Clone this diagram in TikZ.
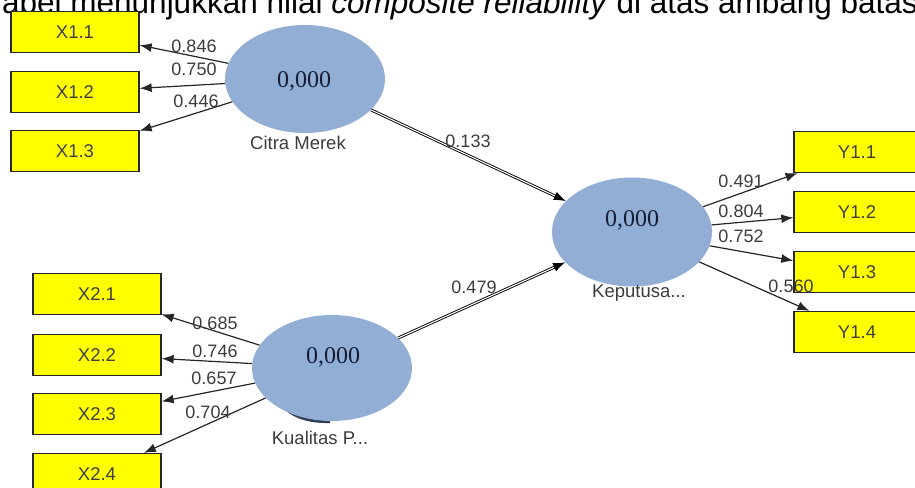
\documentclass[tikz,border=0pt]{standalone}
\usepackage{fontspec}
\setmainfont{Liberation Sans}
\newfontfamily\scorefont{Liberation Serif}
\usetikzlibrary{shapes.geometric,arrows.meta}
\definecolor{lvblue}{RGB}{147,174,213}
\definecolor{lvshadow}{RGB}{50,62,84}
\definecolor{mvyellow}{RGB}{255,255,0}
\definecolor{lbgray}{RGB}{60,60,60}
\definecolor{scorenavy}{RGB}{20,30,55}

\begin{document}
\begin{tikzpicture}[x = 1pt, y = -1pt,
    indicator/.style = {shape = rectangle, draw = black!85, line width = 1.3pt, fill = mvyellow, minimum width = 128pt, minimum height = 41pt, inner sep = 0pt, font = \fontsize{18.5}{21}\selectfont, text = black!75},
    latent/.style = {shape = ellipse, fill = lvblue, inner sep = 0pt, minimum width = 160pt, minimum height = 109pt},
    score/.style = {font = \scorefont\fontsize{24}{28}\selectfont, text = scorenavy},
    lvname/.style = {font = \fontsize{18.5}{21}\selectfont, text = lbgray, inner sep = 0pt},
    weight/.style = {font = \fontsize{18}{21}\selectfont, text = lbgray, inner sep = 0pt},
    loadarrow/.style = {draw = black!85, line width = 1.2pt, -{Latex[length = 12pt, width = 9pt]}},
    patharrow/.style = {draw = black, line width = 0.9pt, double = white, double distance = 1.1pt, -{Latex[length = 12pt, width = 9pt]}}]
    \useasboundingbox (0,0) rectangle (915,487);
    \clip (0,0) rectangle (915,487);

    \node[anchor = base west, inner sep = 0pt, font = \fontsize{31.5}{34}\selectfont] (TTL) at (2,14) {abel menunjukkan nilai \textit{composite reliability} di atas ambang batas};

    \node[indicator] (X11) at (75,32) {X1.1};
    \node[indicator] (X12) at (75,92) {X1.2};
    \node[indicator] (X13) at (75,151) {X1.3};
    \node[indicator] (X21) at (97,294) {X2.1};
    \node[indicator] (X22) at (97,355) {X2.2};
    \node[indicator] (X23) at (97,414) {X2.3};
    \node[indicator] (X24) at (97,474) {X2.4};
    \node[indicator, minimum width = 126pt] (Y11) at (857,152) {Y1.1};
    \node[indicator, minimum width = 126pt] (Y12) at (857,212) {Y1.2};
    \node[indicator, minimum width = 126pt] (Y13) at (857,272) {Y1.3};
    \node[indicator, minimum width = 126pt] (Y14) at (857,332) {Y1.4};

    \fill[lvshadow] (285,410) .. controls (295,419) and (310,423.5) .. (330,423) -- (330,400) -- (285,400) -- cycle;
    \node[latent, minimum height = 108pt] (CM) at (305,79) {};
    \node[latent, minimum height = 106pt] (KP) at (332,368) {};
    \node[latent] (KEP) at (632,232) {};

    \node[score] (CMV) at (304,81) {0,000};
    \node[score] (KPV) at (333,357) {0,000};
    \node[score] (KEPV) at (632,220) {0,000};
    \node[lvname] (CMN) at (298,143) {Citra Merek};
    \node[lvname] (KPN) at (320,438) {Kualitas P...};
    \node[lvname] (KEPN) at (639,293) {Keputusa...};

    \draw[loadarrow] (CM) -- (X11);
    \draw[loadarrow] (CM) -- (X12);
    \draw[loadarrow] (CM) -- (X13);
    \draw[loadarrow] (KP) -- (X21);
    \draw[loadarrow] (KP) -- (X22);
    \draw[loadarrow] (KP) -- (X23);
    \draw[loadarrow] (KP) -- (X24);
    \draw[loadarrow] (KEP) -- (Y11);
    \draw[loadarrow] (KEP) -- (Y12);
    \draw[loadarrow] (KEP) -- (Y13);
    \draw[loadarrow] (KEP) -- (Y14);
    \draw[patharrow] (CM) -- (KEP);
    \draw[patharrow] (KP) -- (KEP);

    \node[weight] (L11) at (194,46) {0.846};
    \node[weight] (L12) at (194,69) {0.750};
    \node[weight] (L13) at (196,101) {0.446};
    \node[weight] (L21) at (215,323) {0.685};
    \node[weight] (L22) at (215,351) {0.746};
    \node[weight] (L23) at (214,378) {0.657};
    \node[weight] (L24) at (208,412) {0.704};
    \node[weight] (M11) at (741,181) {0.491};
    \node[weight] (M12) at (741,211) {0.804};
    \node[weight] (M13) at (741,236) {0.752};
    \node[weight] (M14) at (791,286) {0.560};
    \node[weight] (P1) at (468,141) {0.133};
    \node[weight] (P2) at (474,287) {0.479};
\end{tikzpicture}
\end{document}
